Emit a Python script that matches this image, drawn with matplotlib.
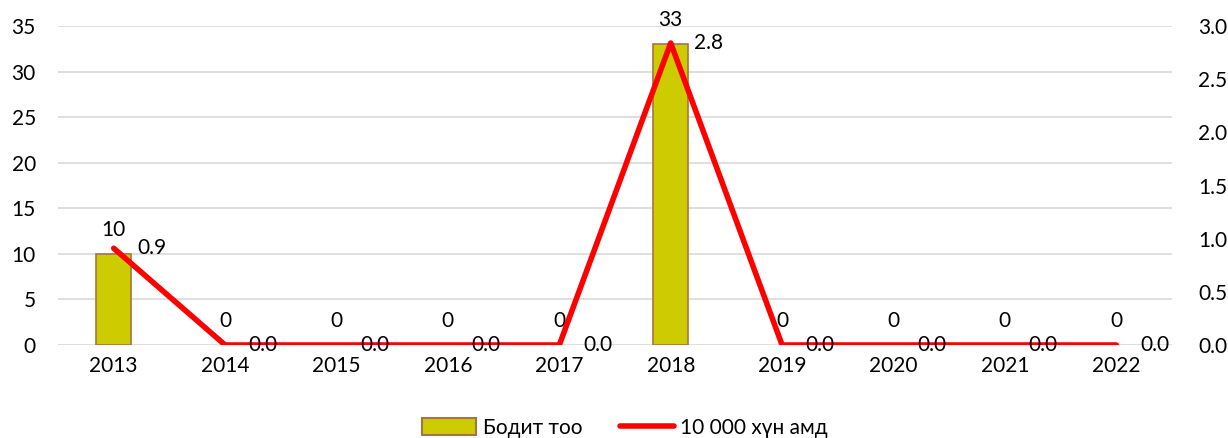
import matplotlib.pyplot as plt
from matplotlib.patches import Patch
from matplotlib.lines import Line2D

# --- Data
years = ["2013", "2014", "2015", "2016", "2017", "2018", "2019", "2020", "2021", "2022"]
actual_count = [10, 0, 0, 0, 0, 33, 0, 0, 0, 0]
per_10000 = [0.91, 0.0, 0.0, 0.0, 0.0, 2.84, 0.0, 0.0, 0.0, 0.0]
per_10000_labels = ["0.9", "0.0", "0.0", "0.0", "0.0", "2.8", "0.0", "0.0", "0.0", "0.0"]

plt.rcParams["font.family"] = ["Lato", "DejaVu Sans"]
plt.rcParams["font.size"] = 15

bar_color = "#CCCC00"
bar_edge = "#A5763C"
line_color = "#FF0000"
grid_color = "#D9D9D9"

fig = plt.figure(figsize=(12.28, 4.38), dpi=100)
ax = fig.add_axes([58 / 1228, 93 / 438, (1172 - 58) / 1228, (345 - 26) / 438])
ax2 = ax.twinx()

x = list(range(len(years)))

# --- Bars (left axis)
bars = ax.bar(x, actual_count, width=0.31, color=bar_color, edgecolor=bar_edge, linewidth=1.2, zorder=2)
for b, v in zip(bars, actual_count):
    if v == 0:
        b.set_linewidth(0)  # no outline for empty bars
ax.set_ylim(0, 35)
ax.set_yticks(range(0, 36, 5))
ax.set_xlim(-0.5, len(years) - 0.5)
ax.set_xticks(x)
ax.set_xticklabels(years)
ax.grid(axis="y", color=grid_color, linewidth=1.2, zorder=0)
ax.set_axisbelow(True)
ax.tick_params(length=0, pad=8)
ax.tick_params(axis="y", pad=16)
for s in ax.spines.values():
    s.set_visible(False)

for xi, v in zip(x, actual_count):
    ax.annotate(str(v), (xi, v), xytext=(0, 10), textcoords="offset points",
                ha="center", va="bottom", color="black")

# --- Line (right axis)
ax2.plot(x, per_10000, color=line_color, linewidth=4, solid_capstyle="round", zorder=3)
ax2.set_ylim(0, 3.0)
ax2.set_yticks([0, 0.5, 1.0, 1.5, 2.0, 2.5, 3.0])
ax2.set_yticklabels([f"{t:.1f}" for t in [0, 0.5, 1.0, 1.5, 2.0, 2.5, 3.0]])
ax2.tick_params(length=0, pad=19)
for s in ax2.spines.values():
    s.set_visible(False)

for xi, v, lab in zip(x, per_10000, per_10000_labels):
    ax2.annotate(lab, (xi, v), xytext=(17, 0), textcoords="offset points",
                 ha="left", va="center", color="black")

# --- Legend
handles = [Patch(facecolor=bar_color, edgecolor=bar_edge, linewidth=1.5),
           Line2D([0], [0], color=line_color, linewidth=4, solid_capstyle="round")]
fig.legend(handles, ["Бодит тоо", "10 000 хүн амд"], loc="center", bbox_to_anchor=(0.509, 10 / 438),
           ncol=2, frameon=False, handlelength=2.6, handleheight=0.9, columnspacing=1.8, handletextpad=0.3)

fig.savefig("out.png", dpi=100)
